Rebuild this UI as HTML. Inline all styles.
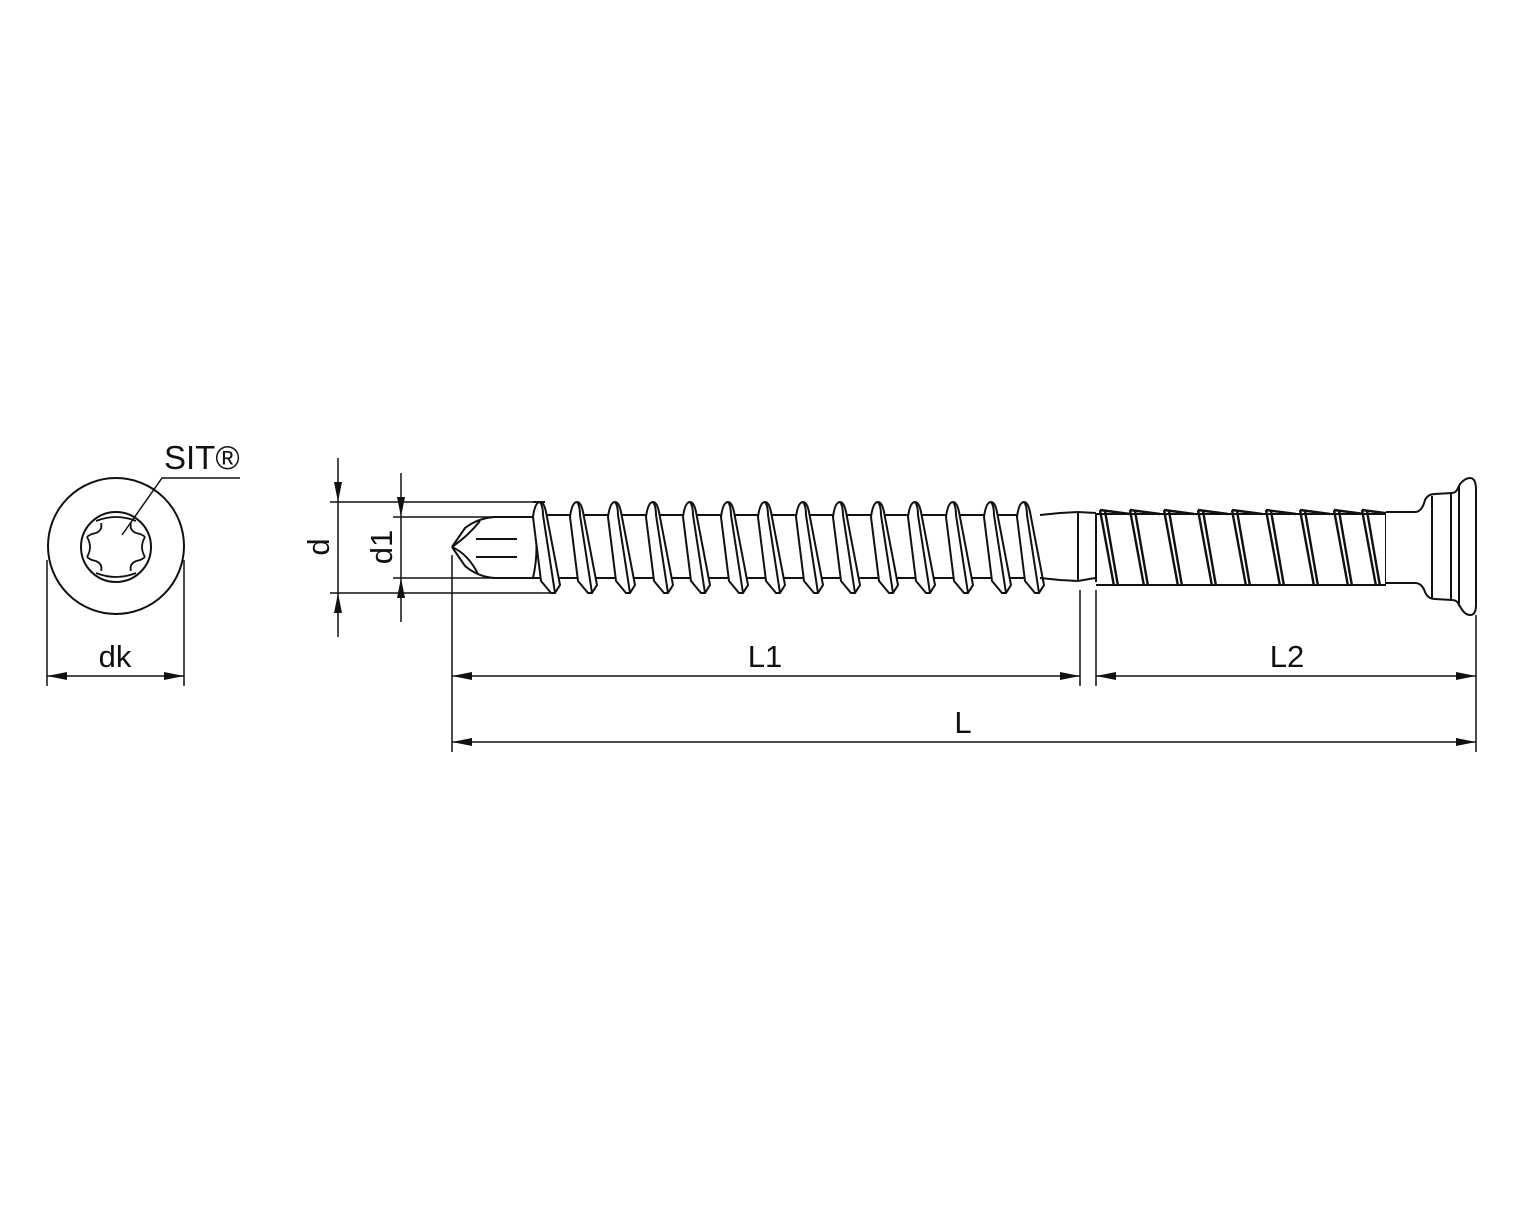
<!DOCTYPE html>
<html><head><meta charset="utf-8"><style>html,body{margin:0;padding:0;background:#fff}svg{display:block}text{font-family:"Liberation Sans",Arial,sans-serif;fill:#111}</style></head>
<body>
<svg width="1517" height="1214" viewBox="0 0 1517 1214" xmlns="http://www.w3.org/2000/svg">
<defs>
<marker id="a" viewBox="0 0 20 8" refX="20" refY="4" markerWidth="20" markerHeight="8" orient="auto-start-reverse" markerUnits="userSpaceOnUse"><path d="M0,0 L20,4 L0,8 Z" fill="#111"/></marker>
<g id="th">
<path d="M0,517 Q2,502 7,502 Q11,502 13,512 L27,585 L22,593 L18,593 L8,581 Z" fill="#fff"/>
<path d="M7,502 Q10,506 10,515 L22,593" fill="none"/>
</g>
<g id="th2">
<path d="M0,510 L14,586 M5,511 L18,586 M0,510 L30,514" fill="none" stroke-width="2.4"/>
</g>
</defs>
<g stroke="#111" stroke-width="2" fill="none">
<circle cx="116" cy="546" r="68"/>
<circle cx="116" cy="547" r="35"/>
<path d="M96,521 Q116,513 136,521 M96,573 Q116,581 136,573 M87,537 Q93,547 87,557 M145,537 Q139,547 145,557 M101,523 Q103,530 96,533 M131,523 Q129,530 136,533 M101,571 Q103,564 96,561 M131,571 Q129,564 136,561 M96,533 Q90,534 87,537 M136,533 Q142,534 145,537 M96,561 Q90,560 87,557 M136,561 Q142,560 145,557" stroke-width="1.8"/>
<path d="M122,535 L162,478 L240,478" stroke-width="1.5"/>
<line x1="47" y1="560" x2="47" y2="686" stroke-width="1.5"/>
<line x1="184" y1="560" x2="184" y2="686" stroke-width="1.5"/>
<line x1="47" y1="676" x2="184" y2="676" stroke-width="1.5" marker-start="url(#a)" marker-end="url(#a)"/>

<line x1="330" y1="502" x2="545" y2="502" stroke-width="1.5"/>
<line x1="330" y1="593" x2="555" y2="593" stroke-width="1.5"/>
<line x1="393" y1="517" x2="500" y2="517" stroke-width="1.5"/>
<line x1="393" y1="578" x2="500" y2="578" stroke-width="1.5"/>
<line x1="338" y1="458" x2="338" y2="502" stroke-width="1.5" marker-end="url(#a)"/>
<line x1="338" y1="637" x2="338" y2="593" stroke-width="1.5" marker-end="url(#a)"/>
<line x1="338" y1="502" x2="338" y2="593" stroke-width="1.5"/>
<line x1="401" y1="473" x2="401" y2="517" stroke-width="1.5" marker-end="url(#a)"/>
<line x1="401" y1="622" x2="401" y2="578" stroke-width="1.5" marker-end="url(#a)"/>
<line x1="401" y1="517" x2="401" y2="578" stroke-width="1.5"/>

<line x1="452" y1="555" x2="452" y2="752" stroke-width="1.5"/>
<line x1="1080" y1="590" x2="1080" y2="686" stroke-width="1.5"/>
<line x1="1096" y1="590" x2="1096" y2="686" stroke-width="1.5"/>
<line x1="1476" y1="615" x2="1476" y2="752" stroke-width="1.5"/>
<line x1="452" y1="676" x2="1080" y2="676" stroke-width="1.5" marker-start="url(#a)" marker-end="url(#a)"/>
<line x1="1096" y1="676" x2="1476" y2="676" stroke-width="1.5" marker-start="url(#a)" marker-end="url(#a)"/>
<line x1="452" y1="742" x2="1476" y2="742" stroke-width="1.5" marker-start="url(#a)" marker-end="url(#a)"/>

<path d="M452,547 L465,528 Q478,518 495,517 L540,517 M452,547 L465,566 Q478,577 495,578 L540,578 M452,547 Q468,536 480,521 M452,547 Q468,554 478,574 M476,539 L517,539 M476,557 L517,557 M533,517 Q540,547 533,578"/>
<line x1="540" y1="515" x2="1030" y2="515"/>
<line x1="540" y1="578" x2="1030" y2="578"/>
<use href="#th" x="533"/><use href="#th" x="570"/><use href="#th" x="608"/><use href="#th" x="646"/><use href="#th" x="683"/><use href="#th" x="721"/><use href="#th" x="758"/><use href="#th" x="796"/><use href="#th" x="833"/><use href="#th" x="871"/><use href="#th" x="908"/><use href="#th" x="946"/><use href="#th" x="984"/><use href="#th" x="1017"/>
<line x1="533" y1="502" x2="545" y2="502"/>
<path d="M1040,578 L1060,580 L1078,581 L1095,578 M1040,515 L1060,513 L1078,512 L1096,513"/>
<line x1="1078" y1="512" x2="1078" y2="582"/>
<line x1="1096" y1="513" x2="1096" y2="582"/>
<line x1="1096" y1="514" x2="1386" y2="514"/>
<line x1="1096" y1="585" x2="1386" y2="585"/>
<use href="#th2" x="1100"/><use href="#th2" x="1130"/><use href="#th2" x="1164"/><use href="#th2" x="1198"/><use href="#th2" x="1232"/><use href="#th2" x="1266"/><use href="#th2" x="1300"/><use href="#th2" x="1334"/><use href="#th2" x="1362"/>
<line x1="1386" y1="512" x2="1386" y2="584"/>
<path d="M1386,512 L1415,512 Q1422,512 1425,500 Q1428,494 1435,494 L1452,493 Q1456,493 1458,488 L1460,484 Q1465,478 1470,478 Q1476,478 1476,490 L1476,605 Q1476,615 1470,615 Q1465,615 1461,608 L1458,603 Q1456,600 1452,600 L1435,599 Q1428,599 1425,592 Q1422,583 1415,583 L1386,583" fill="#fff"/>
<line x1="1432" y1="496" x2="1432" y2="598"/>
<line x1="1451" y1="494" x2="1451" y2="600"/>
<line x1="1459" y1="486" x2="1459" y2="606"/>
</g>
<text x="164" y="469" font-size="33">SIT®</text>
<text x="115" y="667" font-size="31" text-anchor="middle">dk</text>
<text x="765" y="667" font-size="31" text-anchor="middle">L1</text>
<text x="1287" y="667" font-size="31" text-anchor="middle">L2</text>
<text x="963" y="733" font-size="31" text-anchor="middle">L</text>
<text transform="translate(329,547) rotate(-90)" font-size="31" text-anchor="middle">d</text>
<text transform="translate(392,547) rotate(-90)" font-size="31" text-anchor="middle">d1</text>
</svg>
</body></html>
